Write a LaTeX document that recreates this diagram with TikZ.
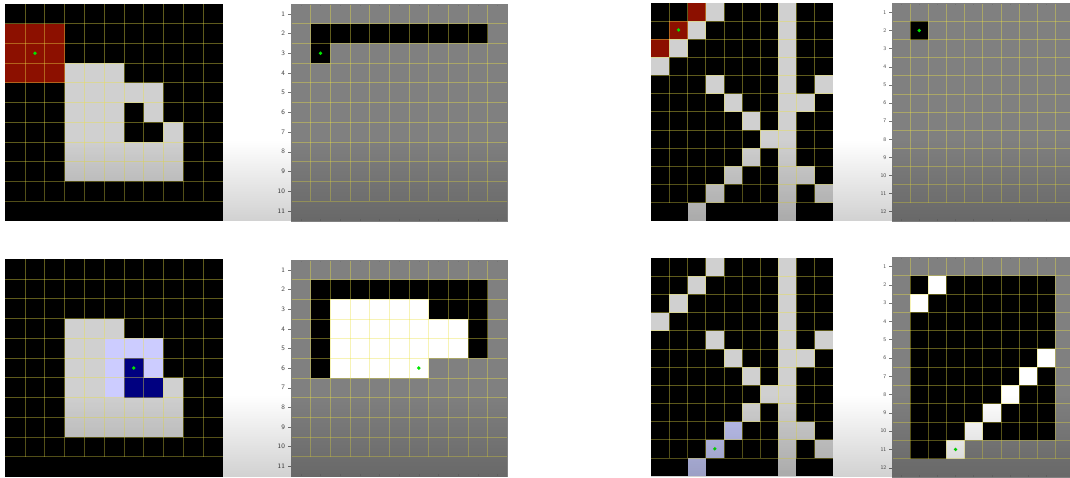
\documentclass[tikz,border=0pt]{standalone}
\usetikzlibrary{fadings}
\definecolor{cred}{RGB}{140,16,0}
\definecolor{clg}{RGB}{208,208,208}
\definecolor{clav}{RGB}{204,204,255}
\definecolor{clavb}{RGB}{190,194,240}
\definecolor{cnavy}{RGB}{0,0,128}
\definecolor{cgray}{RGB}{128,128,128}
\definecolor{cgrid}{RGB}{235,225,70}
\definecolor{cgreen}{RGB}{0,230,0}
\tikzfading[name=fadedown, top color=transparent!100, bottom color=transparent!0]
\tikzset{
  gridline/.style={draw=cgrid, opacity=0.4, line width=0.7pt},
  tickmark/.style={draw=black!55, line width=0.4pt},
  ticklabel/.style={font=\sffamily\fontsize{6.8}{6.8}\selectfont, text=black!75, inner sep=0pt, anchor=east},
  ticklabelsmall/.style={font=\sffamily\fontsize{5.5}{5.5}\selectfont, text=black!70, inner sep=0pt, anchor=east},
  greendot/.style={fill=cgreen},
  vignette/.style={fill=black, opacity=0.18, path fading=fadedown},
}
\newcommand{\mygridlines}[3]{%
  \foreach \i in {1,...,#1} \draw[gridline] (\i,0) -- (\i,#2);
  \foreach \j in {1,...,#2} \draw[gridline] (0,\j) -- (#3,\j);
}
\newcommand{\myticks}[3]{%
  \foreach \j in {1,...,#2} {\draw[tickmark] (-0.14,\j-0.5) -- (0,\j-0.5);}
  \foreach \i in {1,...,#1} {\draw[tickmark] (\i-0.5,0) -- (\i-0.5,0.1);
                             \draw[tickmark] (\i-0.5,#2) -- (\i-0.5,#2-0.1);}
}
\begin{document}
\begin{tikzpicture}[x=1pt,y=-1pt]
\useasboundingbox (0,0) rectangle (1070,477);
\fill[white] (0,0) rectangle (1070,477);

% ---------- Panel 1 ----------
\begin{scope}[shift={(5.3,4)}, x=19.76pt, y=-19.7pt]
  \fill[black] (0,0) rectangle (11,11);
  \fill[cred] (0,1) rectangle (3,4);
  \fill[clg] (3,3) rectangle (6,9);
  \fill[clg] (6,4) rectangle (8,5);
  \fill[clg] (7,5) rectangle (8,6);
  \fill[clg] (8,6) rectangle (9,9);
  \fill[clg] (6,7) rectangle (8,9);
  \mygridlines{10}{10}{11}
  \fill[greendot] (1.5,2.5) circle (1.9pt);
\end{scope}

% ---------- Panel 2 ----------
\begin{scope}[shift={(291,4)}, x=19.66pt, y=-19.7pt]
  \fill[cgray] (0,0) rectangle (11,11);
  \fill[black] (1,1) rectangle (10,2);
  \fill[black] (1,2) rectangle (2,3);
  \mygridlines{10}{10}{11}
  \myticks{11}{11}{}
  \draw[black!50, line width=0.4pt] (0,0) rectangle (11,11);
  \foreach \j in {1,...,11} \node[ticklabel] (tA\j) at (-0.3,\j-0.5) {\j};
  \fill[greendot] (1.5,2.5) circle (1.9pt);
\end{scope}

% ---------- Panel 3 ----------
\begin{scope}[shift={(651.3,2.7)}, x=18.14pt, y=-18.17pt]
  \fill[black] (0,0) rectangle (10,12);
  \foreach \c/\r in {3/1,2/2,1/3} \fill[cred] (\c-1,\r-1) rectangle (\c,\r);
  \fill[clg] (7,0) rectangle (8,12);
  \foreach \c/\r in {4/1,3/2,2/3,1/4,4/5,10/5,5/6,9/6,6/7,7/8,6/9,5/10,9/10,4/11,10/11,3/12}
    \fill[clg] (\c-1,\r-1) rectangle (\c,\r);
  \mygridlines{9}{11}{10}
  \fill[greendot] (1.5,1.5) circle (1.8pt);
\end{scope}

% ---------- Panel 4 ----------
\begin{scope}[shift={(892,3.3)}, x=18.15pt, y=-18.12pt]
  \fill[cgray] (0,0) rectangle (9.81,12);
  \fill[black] (1,1) rectangle (2,2);
  \mygridlines{9}{11}{9.81}
  \myticks{9}{12}{}
  \draw[black!50, line width=0.4pt] (9.81,0) -- (0,0) -- (0,12) -- (9.81,12);
  \foreach \j in {1,...,12} \node[ticklabelsmall] (tB\j) at (-0.3,\j-0.5) {\j};
  \fill[greendot] (1.5,1.5) circle (1.8pt);
\end{scope}

% ---------- Panel 5 ----------
\begin{scope}[shift={(5.3,259.3)}, x=19.76pt, y=-19.75pt]
  \fill[black] (0,0) rectangle (11,11);
  \fill[clg] (3,3) rectangle (6,9);
  \fill[clav] (5,4) rectangle (8,7);
  \fill[cnavy] (6,5) rectangle (7,7);
  \fill[cnavy] (7,6) rectangle (8,7);
  \fill[clg] (8,6) rectangle (9,9);
  \fill[clg] (6,7) rectangle (8,9);
  \mygridlines{10}{10}{11}
  \fill[greendot] (6.5,5.5) circle (1.9pt);
\end{scope}

% ---------- Panel 6 ----------
\begin{scope}[shift={(291,260)}, x=19.66pt, y=-19.65pt]
  \fill[cgray] (0,0) rectangle (11,11);
  \fill[black] (1,1) rectangle (10,6);
  \fill[white] (2,2) rectangle (7,6);
  \fill[white] (2,3) rectangle (9,5);
  \fill[cgray] (7,5) rectangle (10,6);
  \mygridlines{10}{10}{11}
  \myticks{11}{11}{}
  \draw[black!50, line width=0.4pt] (0,0) rectangle (11,11);
  \foreach \j in {1,...,11} \node[ticklabel] (tC\j) at (-0.3,\j-0.5) {\j};
  \fill[greendot] (6.5,5.5) circle (1.9pt);
\end{scope}

% ---------- Panel 7 ----------
\begin{scope}[shift={(651.3,258)}, x=18.14pt, y=-18.17pt]
  \fill[black] (0,0) rectangle (10,12);
  \fill[clg] (7,0) rectangle (8,12);
  \foreach \c/\r in {4/1,3/2,2/3,1/4,4/5,10/5,5/6,9/6,6/7,7/8,6/9,9/10,10/11}
    \fill[clg] (\c-1,\r-1) rectangle (\c,\r);
  \foreach \c/\r in {5/10,4/11,3/12}
    \fill[clavb] (\c-1,\r-1) rectangle (\c,\r);
  \mygridlines{9}{11}{10}
  \fill[greendot] (3.5,10.5) circle (1.8pt);
\end{scope}

% ---------- Panel 8 ----------
\begin{scope}[shift={(892,257.3)}, x=18.15pt, y=-18.3pt]
  \fill[cgray] (0,0) rectangle (9.81,12);
  \fill[black] (1,1) rectangle (9,10);
  \fill[black] (1,10) rectangle (3,11);
  \foreach \c/\r in {3/2,2/3,9/6,8/7,7/8,6/9,5/10,4/11}
    \fill[white] (\c-1,\r-1) rectangle (\c,\r);
  \mygridlines{9}{11}{9.81}
  \myticks{9}{12}{}
  \draw[black!50, line width=0.4pt] (9.81,0) -- (0,0) -- (0,12) -- (9.81,12);
  \foreach \j in {1,...,12} \node[ticklabelsmall] (tD\j) at (-0.3,\j-0.5) {\j};
  \fill[greendot] (3.5,10.5) circle (1.8pt);
\end{scope}

% ---------- bottom darkening of the screenshots ----------
\fill[vignette] (5.3,140) rectangle (507.3,221);
\fill[vignette] (651.3,140) rectangle (1070,221);
\fill[vignette] (5.3,395) rectangle (507.3,477);
\fill[vignette] (651.3,395) rectangle (1070,477);
\end{tikzpicture}
\end{document}
